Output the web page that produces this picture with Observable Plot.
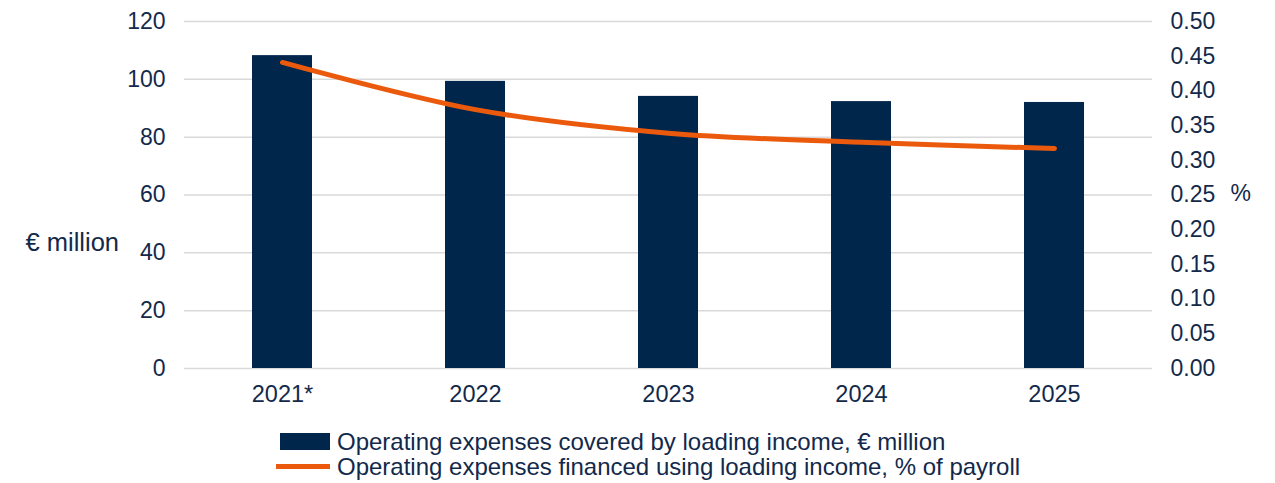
<!DOCTYPE html>
<html>
<head>
<meta charset="utf-8">
<script src="https://cdn.jsdelivr.net/npm/d3@7"></script>
<script src="https://cdn.jsdelivr.net/npm/@observablehq/plot@0.6"></script>
<style>
  html, body { margin: 0; padding: 0; background: #fff; }
  body { width: 1275px; height: 483px; overflow: hidden; font-family: "Liberation Sans", Arial, sans-serif; color: #13294B; }
  #legend { position: relative; height: 68px; font-size: 24px; }
  .row { position: absolute; left: 0; display: flex; align-items: center; height: 25px; }
  .sw { position: absolute; }
  .lbl { position: absolute; left: 337px; white-space: nowrap; }
</style>
</head>
<body>
<div id="chart"></div>
<div id="legend"></div>
<script>
const years = ["2021*", "2022", "2023", "2024", "2025"];
const expensesMillion = [108.2, 99.3, 94.1, 92.3, 92.0];
const payrollPct = [0.441, 0.373, 0.339, 0.326, 0.317];
const leftTicks = [0, 20, 40, 60, 80, 100, 120];
const rightTicks = [0, 0.05, 0.10, 0.15, 0.20, 0.25, 0.30, 0.35, 0.40, 0.45, 0.50];
const seriesNames = ["Operating expenses covered by loading income, € million",
                     "Operating expenses financed using loading income, % of payroll"];

const barColor = "#00264C";
const lineColor = "#EB5A0C";
const textColor = "#13294B";
const ratio = 120 / 0.5; // right axis to left axis

const bars = years.map((y, i) => ({year: y, value: expensesMillion[i]}));
const line = years.map((y, i) => ({year: y, pct: payrollPct[i], scaled: payrollPct[i] * ratio}));

const chart = Plot.plot({
  width: 1275,
  height: 415,
  marginLeft: 184,
  marginRight: 123,
  marginTop: 21,
  marginBottom: 47,
  style: {fontFamily: "'Liberation Sans', Arial, sans-serif", fontSize: "23px", color: textColor, background: "#fff"},
  x: {domain: years, paddingInner: 0.69, paddingOuter: 0.345, label: null},
  y: {domain: [0, 120], label: null},
  marks: [
    Plot.ruleY(leftTicks, {stroke: "#d9d9d9", strokeWidth: 1.5}),
    Plot.axisX({tickSize: 0, tickPadding: 17, fill: textColor, label: null, fontSize: 23.5}),
    Plot.axisY(leftTicks, {anchor: "left", tickSize: 0, tickPadding: 19, fill: textColor, label: null, fontSize: 23}),
    Plot.axisY(rightTicks.map(t => t * ratio), {anchor: "right", tickSize: 0, tickPadding: 18, fill: textColor, label: null, fontSize: 23,
      tickFormat: d => (d / ratio).toFixed(2)}),
    Plot.barY(bars, {x: "year", y: "value", fill: barColor}),
    Plot.line(line, {x: "year", y: "scaled", stroke: lineColor, strokeWidth: 5, curve: "catmull-rom", strokeLinecap: "round"}),
    Plot.text(["€ million"], {frameAnchor: "left", dx: -159, dy: 48, textAnchor: "start", fill: textColor, fontSize: 25.5}),
    Plot.text(["%"], {frameAnchor: "right", dx: 78, dy: -1, textAnchor: "start", fill: textColor, fontSize: 23})
  ]
});
document.getElementById("chart").appendChild(chart);

const legend = document.getElementById("legend");
legend.innerHTML = `
  <div class="row" style="top:14px;width:1275px">
    <div class="sw" style="left:280px;top:4px;width:50px;height:17px;background:${barColor}"></div>
    <div class="lbl">${seriesNames[0]}</div>
  </div>
  <div class="row" style="top:39px;width:1275px">
    <div class="sw" style="left:276px;top:10px;width:54px;height:5px;background:${lineColor}"></div>
    <div class="lbl">${seriesNames[1]}</div>
  </div>`;
</script>
</body>
</html>
